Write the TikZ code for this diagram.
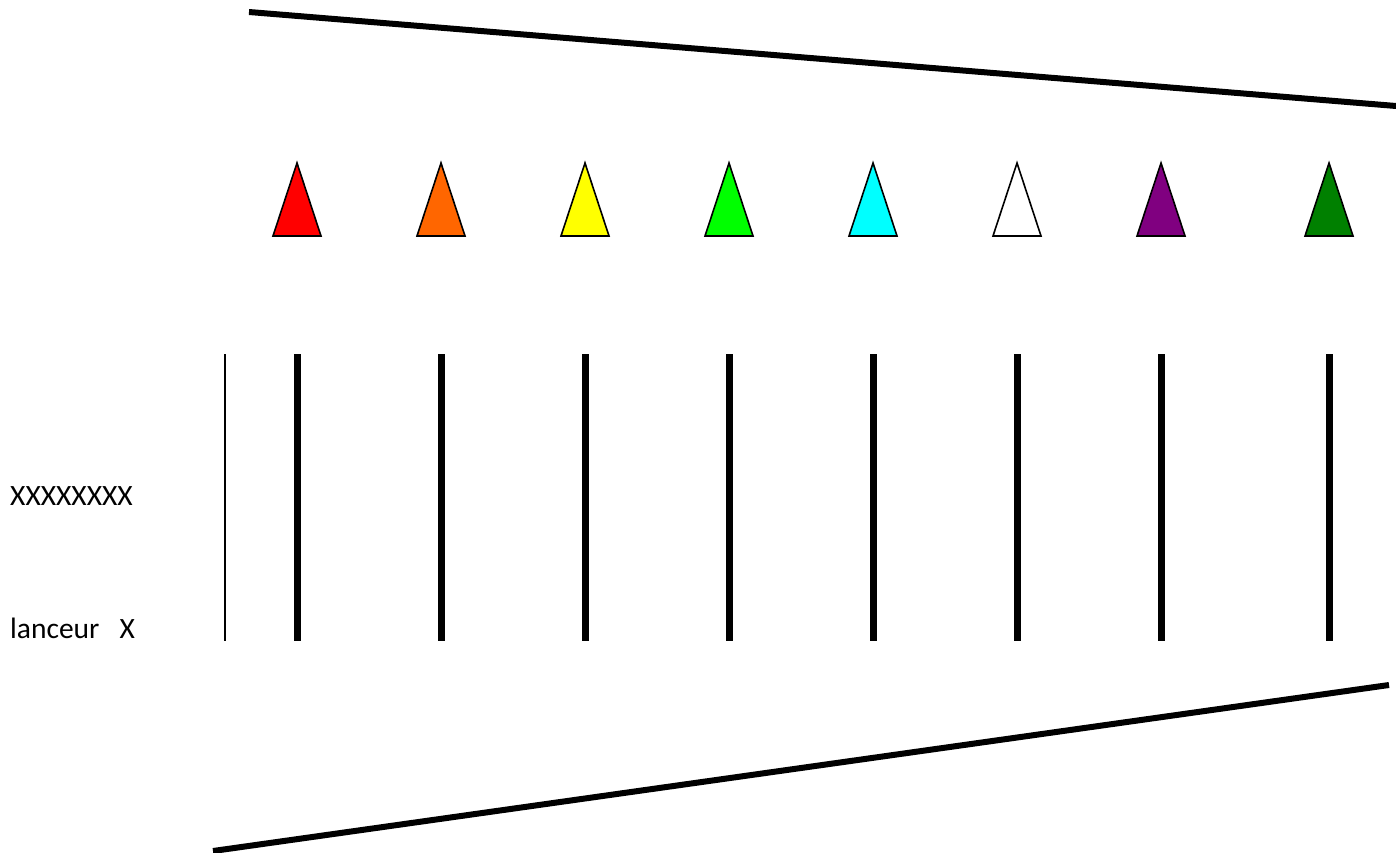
\documentclass[tikz,border=0pt]{standalone}
\usepackage{fontspec}
\setmainfont{Carlito}
\usetikzlibrary{positioning}
\definecolor{cone1}{HTML}{FF0000}
\definecolor{cone2}{HTML}{FF6600}
\definecolor{cone3}{HTML}{FFFF00}
\definecolor{cone4}{HTML}{00FF00}
\definecolor{cone5}{HTML}{00FFFF}
\definecolor{cone6}{HTML}{FFFFFF}
\definecolor{cone7}{HTML}{800080}
\definecolor{cone8}{HTML}{008000}
\tikzset{
    border/.style={line width=6pt},
    post/.style={line width=7pt},
    cone/.style={draw=black, line width=1.6pt},
    label/.style={anchor=base west, font=\fontsize{29.5}{35}\selectfont, inner sep=0pt}
}

\begin{document}
\begin{tikzpicture}[x=1pt, y=-1pt]
        \useasboundingbox (0,0) rectangle (1396,853);

        % field borders
        \draw [border] (249,12) -- (1396,106);
        \draw [border] (213,851) -- (1389,685);

        % start line
        \draw [line width=2pt] (225,354) -- (225,641);

        % cones and posts
        \foreach \x [count=\i] in {297,441,585,729,873,1017,1161,1329} {
            \draw [cone, fill=cone\i] (\x,163) -- (\x+24,236) -- (\x-24,236) -- cycle;
            \draw [post] (\x,354) -- (\x,641);
        }

        \node (name) [label] at (10,505) {XXXXXXXX};
        \node (thrower) [label] at (10,638) {lanceur\ \ \ X};
    \end{tikzpicture}
\end{document}
